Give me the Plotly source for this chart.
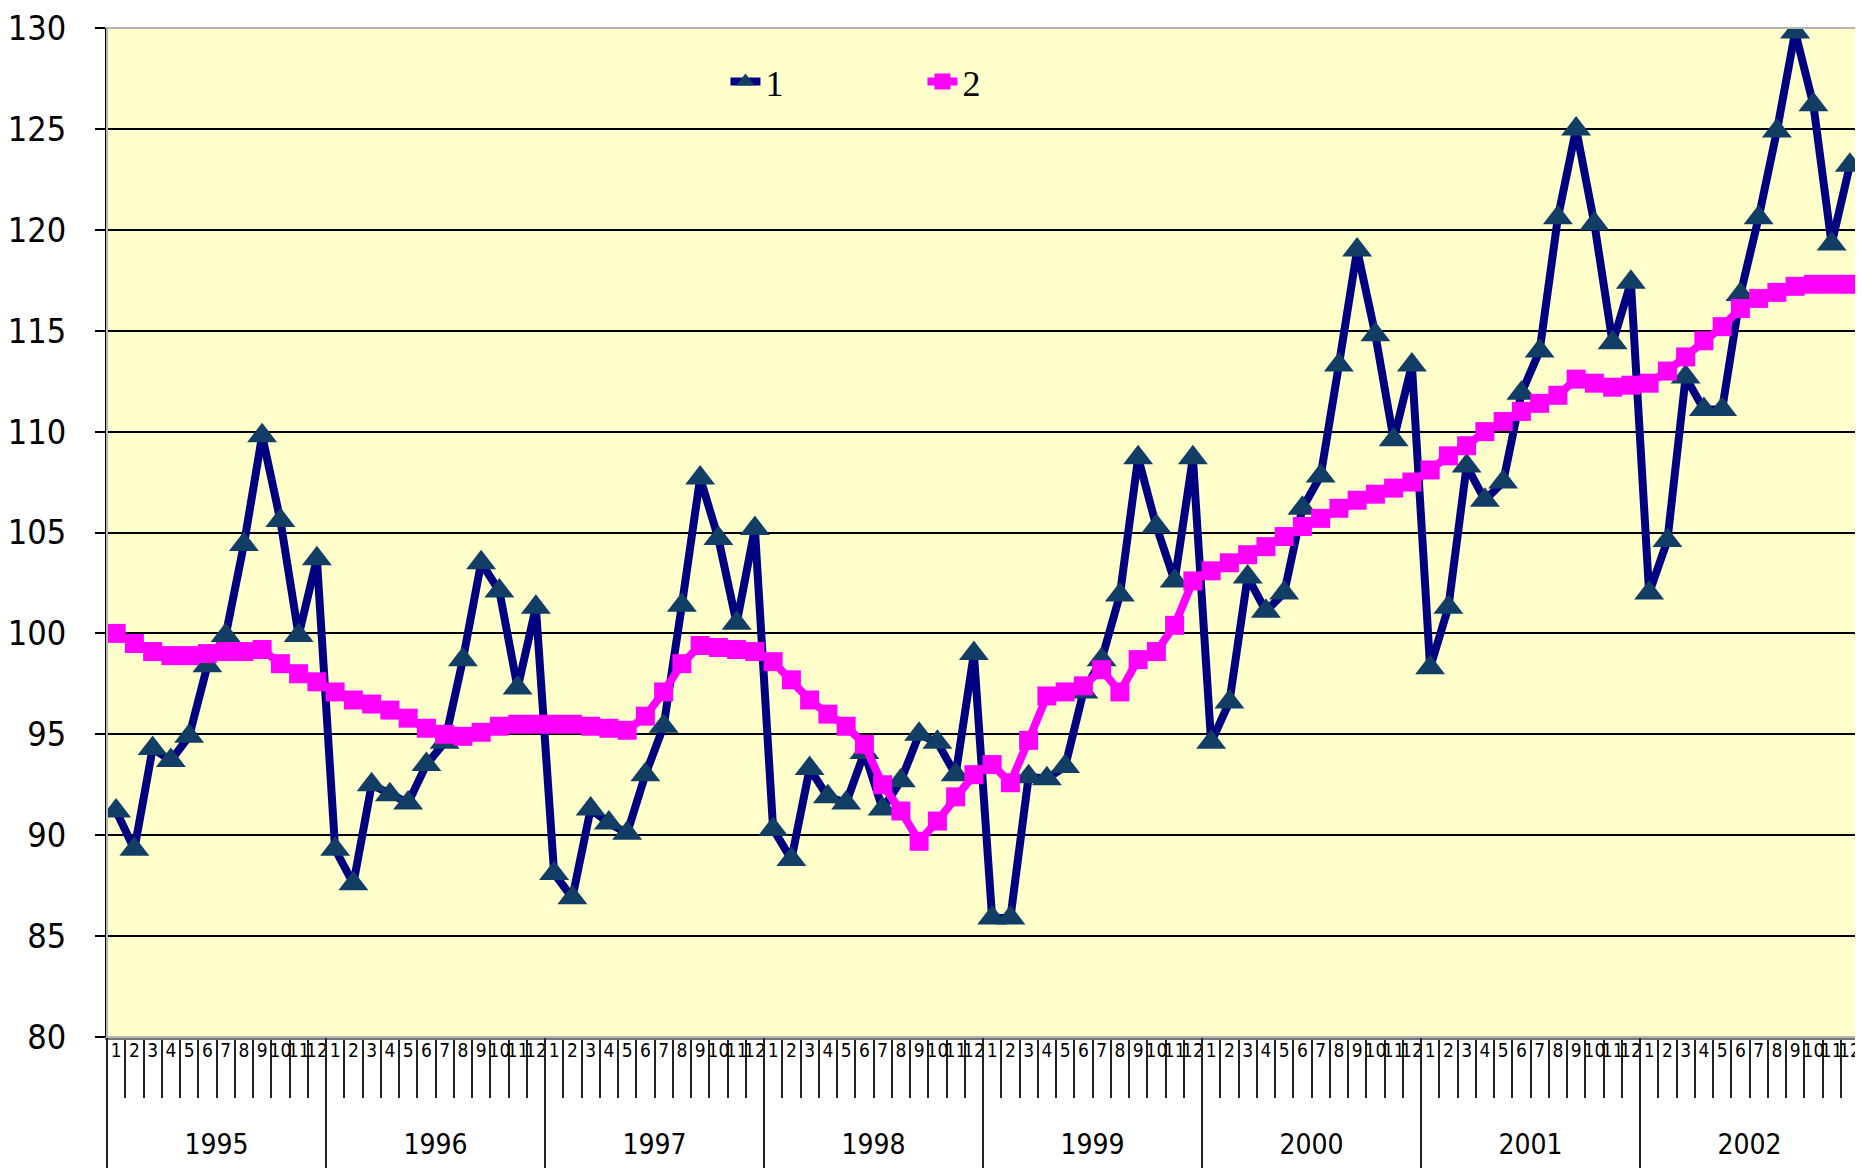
import plotly.graph_objects as go

# ---------------- data ----------------
years = ["1995", "1996", "1997", "1998", "1999", "2000", "2001", "2002"]
months = ["1", "2", "3", "4", "5", "6", "7", "8", "9", "10", "11", "12"]

series1_name = "1"
series2_name = "2"

series1 = [
    91.2, 89.3, 94.3, 93.7, 94.9, 98.4, 99.9, 104.4, 109.8, 105.6, 99.9, 103.7,    # 1995
    89.3, 87.6, 92.5, 92.0, 91.6, 93.5, 94.6, 98.7, 103.5, 102.1, 97.3, 101.3,     # 1996
    88.1, 86.9, 91.3, 90.6, 90.1, 93.0, 95.4, 101.4, 107.7, 104.7, 100.5, 105.2,   # 1997
    90.3, 88.8, 93.3, 91.9, 91.6, 94.1, 91.3, 92.7, 95.0, 94.6, 93.0, 99.0,        # 1998
    85.9, 85.9, 92.9, 92.8, 93.4, 97.1, 98.7, 101.9, 108.7, 105.3, 102.6, 108.7,   # 1999
    94.6, 96.6, 102.8, 101.1, 102.0, 106.2, 107.8, 113.3, 119.0, 114.8, 109.6, 113.3,  # 2000
    98.3, 101.3, 108.3, 106.6, 107.5, 111.9, 114.0, 120.6, 125.0, 120.3, 114.4, 117.4,  # 2001
    102.0, 104.6, 112.7, 111.1, 111.1, 116.8, 120.6, 124.9, 129.8, 126.2, 119.3, 123.2,  # 2002
]

series2 = [
    100.0, 99.5, 99.1, 98.9, 98.9, 99.0, 99.1, 99.1, 99.2, 98.5, 98.0, 97.6,       # 1995
    97.1, 96.7, 96.5, 96.2, 95.8, 95.3, 95.0, 94.9, 95.1, 95.4, 95.5, 95.5,        # 1996
    95.5, 95.5, 95.4, 95.3, 95.2, 95.9, 97.1, 98.5, 99.4, 99.3, 99.2, 99.1,        # 1997
    98.6, 97.7, 96.7, 96.0, 95.4, 94.5, 92.5, 91.2, 89.7, 90.7, 91.9, 93.0,        # 1998
    93.5, 92.6, 94.7, 96.9, 97.1, 97.4, 98.2, 97.1, 98.7, 99.1, 100.4, 102.6,      # 1999
    103.1, 103.5, 103.9, 104.3, 104.8, 105.3, 105.7, 106.2, 106.6, 106.9, 107.2, 107.5,  # 2000
    108.1, 108.8, 109.3, 110.0, 110.5, 111.0, 111.4, 111.8, 112.6, 112.4, 112.2, 112.3,  # 2001
    112.4, 113.0, 113.7, 114.5, 115.2, 116.1, 116.6, 116.9, 117.2, 117.3, 117.3, 117.3,  # 2002
]

y_ticks = [80, 85, 90, 95, 100, 105, 110, 115, 120, 125, 130]

# ---------------- derived ----------------
categories = [f"{y}-{m}" for y in years for m in months]
month_labels = [m for y in years for m in months]
n = len(categories)
positions = list(range(n))
year_centers = [i * len(months) + (len(months) - 1) / 2 for i in range(len(years))]

# ---------------- style ----------------
# the page body adds an 8 px offset, so the figure is 8 px smaller than the window
W, H = 1855, 1160
ml, mr, mt, mb = 99, 4, 20, 0
plot_bottom = 1029
ydom0 = (H - plot_bottom) / (H - mt - mb)
narrow = "Liberation Sans Narrow, Arial Narrow, DejaVu Sans Condensed, sans-serif"

fig = go.Figure()
fig.add_trace(go.Scatter(
    x=categories, y=series1, name=series1_name, mode="lines+markers",
    line=dict(color="#000080", width=8),
    marker=dict(symbol="triangle-up", size=26, color="#123E66", line=dict(width=0)),
))
fig.add_trace(go.Scatter(
    x=categories, y=series2, name=series2_name, mode="lines+markers",
    line=dict(color="#FF00FF", width=8),
    marker=dict(symbol="square", size=19, color="#FF00FF", line=dict(width=0)),
))
# invisible helpers so the overlay axes (month labels / year labels) get drawn
for ax in ("x2", "x3"):
    fig.add_trace(go.Scatter(
        x=positions, y=series2, xaxis=ax, yaxis="y", mode="lines",
        line=dict(width=0, color="rgba(0,0,0,0)"), opacity=0,
        showlegend=False, hoverinfo="skip",
    ))

fig.update_layout(
    width=W, height=H,
    margin=dict(l=ml, r=mr, t=mt, b=mb, pad=0, autoexpand=False),
    paper_bgcolor="white", plot_bgcolor="#FFFFCC",
    showlegend=True,
    legend=dict(
        orientation="h", x=0.353, y=0.953, xanchor="left", yanchor="middle",
        bgcolor="rgba(0,0,0,0)",
        font=dict(family="Liberation Serif, Times New Roman, serif", size=36, color="black"),
        entrywidth=152, entrywidthmode="pixels",
    ),
    xaxis=dict(
        type="category", range=[-0.5, n - 0.5], anchor="y", automargin=False,
        tickmode="linear", tick0=0, dtick=1,
        showgrid=False, showticklabels=False,
        ticks="outside", tickson="boundaries", ticklen=58, tickwidth=1.5, tickcolor="#222222",
        showline=True, linecolor="#777777", linewidth=3, zeroline=False,
    ),
    xaxis2=dict(
        type="linear", overlaying="x", anchor="y", side="bottom", range=[-0.5, n - 0.5],
        automargin=False, ticklabeloverflow="allow",
        tickmode="array", tickvals=positions, ticktext=month_labels,
        ticks="", showgrid=False, zeroline=False, showline=False, tickangle=0,
        tickfont=dict(family=narrow, size=19, color="black"),
    ),
    xaxis3=dict(
        type="linear", overlaying="x", anchor="free", position=0, side="bottom",
        range=[-0.5, n - 0.5], automargin=False, ticklabeloverflow="allow",
        tickmode="array", tickvals=year_centers, ticktext=years,
        ticks="", ticklabelposition="inside", ticklabelstandoff=5,
        showgrid=False, zeroline=False, showline=False, tickangle=0,
        tickfont=dict(family=narrow, size=28, color="black"),
        minor=dict(ticks="inside", ticklen=H - plot_bottom, tickwidth=1.5, tickcolor="#222222",
                   tick0=-0.5, dtick=12, showgrid=False),
    ),
    yaxis=dict(
        domain=[ydom0, 1], range=[80, 130], automargin=False, ticklabeloverflow="allow",
        tickmode="array", tickvals=y_ticks,
        showgrid=True, gridcolor="black", gridwidth=2,
        ticks="outside", ticklen=10, tickwidth=2, tickcolor="black",
        showline=True, linecolor="black", linewidth=2, zeroline=False,
        tickfont=dict(family=narrow, size=34, color="black"),
        ticklabelstandoff=22,
    ),
    shapes=[dict(type="rect", xref="x domain", yref="y domain", x0=0, x1=1, y0=0, y1=1,
                 line=dict(color="#B5B5B5", width=2), layer="above")],
)

fig.write_html("out.html")
